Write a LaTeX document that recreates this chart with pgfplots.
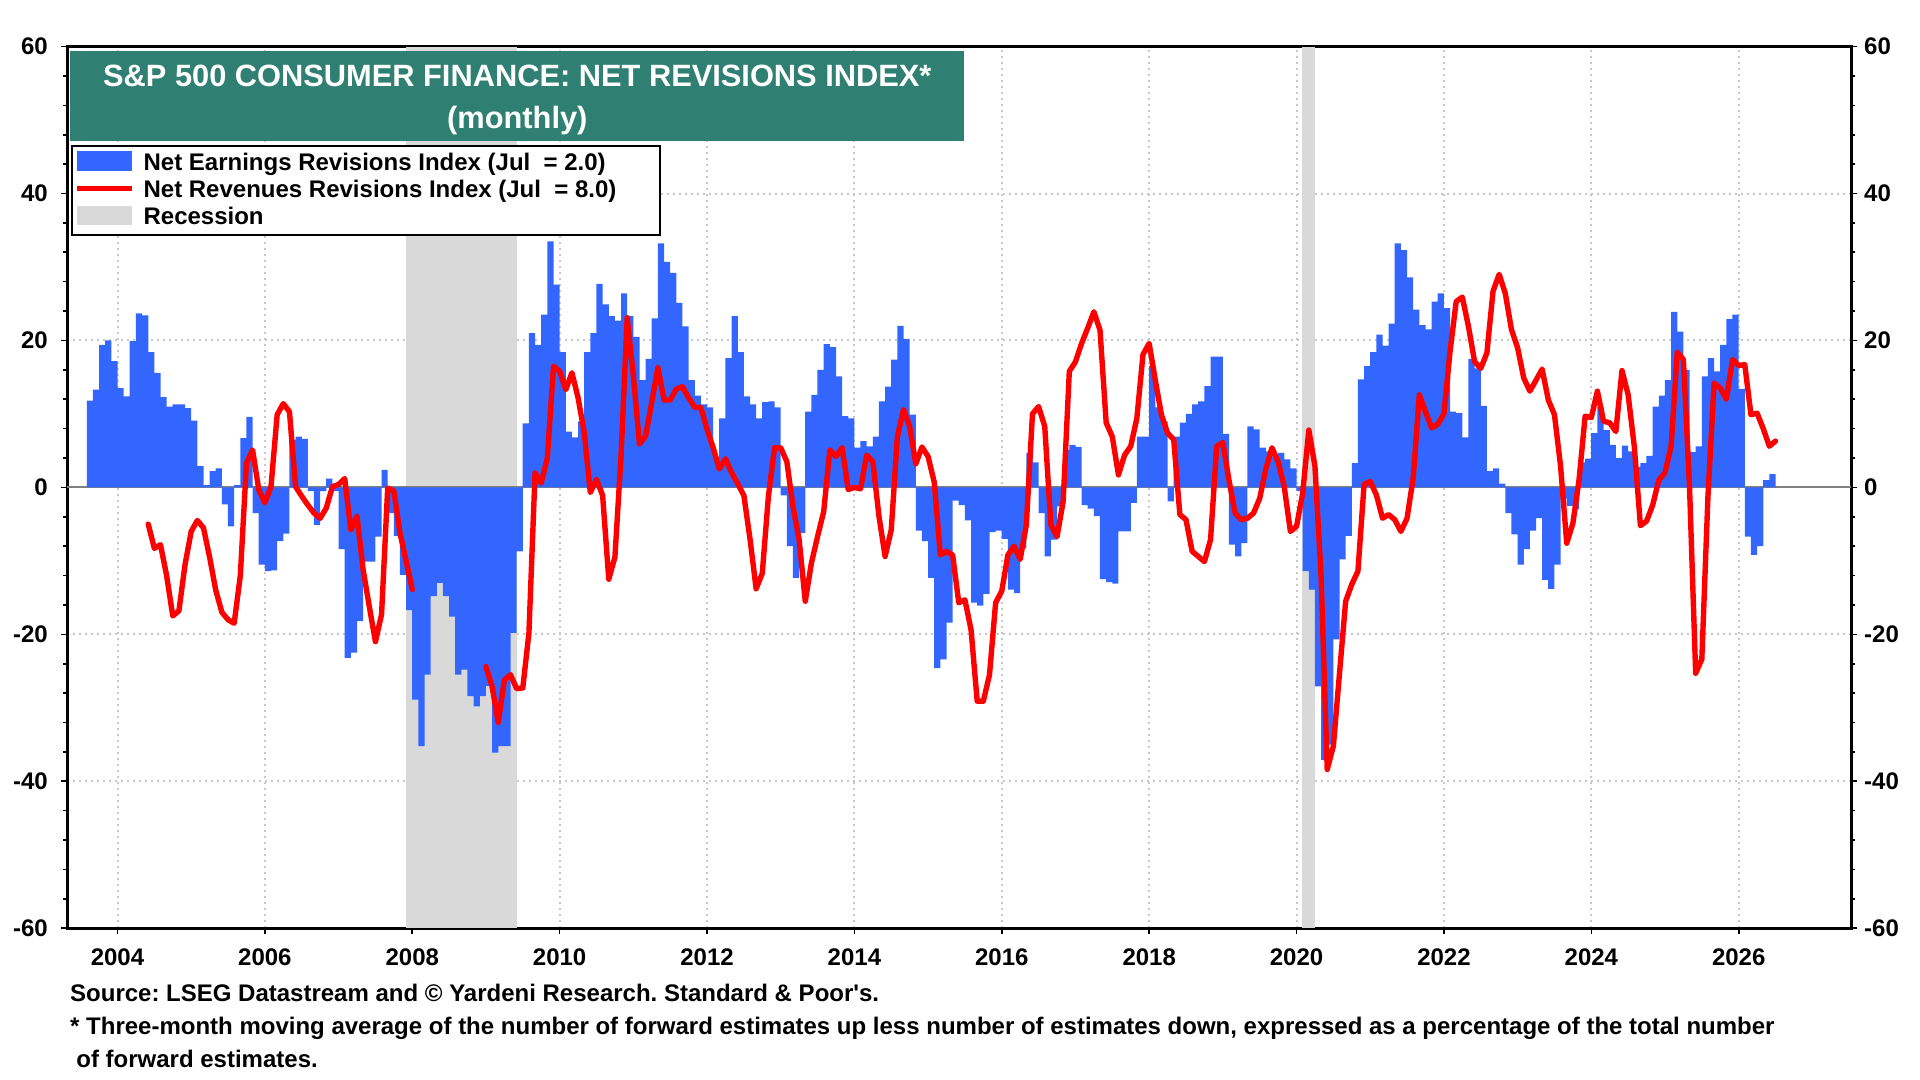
\documentclass[border=0pt]{standalone}
\usepackage{pgfplots}
\pgfplotsset{compat=1.18}
\usepackage{pgfplotstable}
\usepackage{fontspec}
\setmainfont{Liberation Sans}
\frenchspacing
\definecolor{barblue}{RGB}{51,102,255}
\definecolor{linered}{RGB}{255,0,0}
\definecolor{titleteal}{RGB}{47,127,114}
\definecolor{recgray}{RGB}{217,217,217}
\definecolor{gridgray}{RGB}{200,200,200}

\pgfplotstableread{
k v
0 11.8
1 13.3
2 19.4
3 20.0
4 17.2
5 13.5
6 12.4
7 19.9
8 23.7
9 23.4
10 18.4
11 15.6
12 12.3
13 11.0
14 11.3
15 11.3
16 10.8
17 9.1
18 2.9
19 0.3
20 2.2
21 2.6
22 -2.3
23 -5.3
24 0.3
25 6.7
26 9.6
27 -3.5
28 -10.5
29 -11.4
30 -11.3
31 -7.3
32 -6.3
33 6.5
34 6.9
35 6.6
36 -0.5
37 -5.1
38 -0.5
39 1.2
40 -0.5
41 -8.4
42 -23.2
43 -22.5
44 -18.2
45 -10.1
46 -10.1
47 -6.7
48 2.4
49 -3.5
50 -6.6
51 -11.9
52 -16.7
53 -28.9
54 -35.2
55 -25.5
56 -14.8
57 -13.0
58 -14.8
59 -17.6
60 -25.5
61 -24.8
62 -28.4
63 -29.8
64 -28.4
65 -27.0
66 -36.1
67 -35.2
68 -35.2
69 -19.8
70 -8.7
71 8.7
72 21.0
73 19.4
74 23.5
75 33.5
76 27.6
77 18.4
78 7.6
79 6.8
80 9.0
81 18.4
82 21.0
83 27.7
84 24.9
85 23.3
86 22.7
87 26.4
88 23.3
89 20.5
90 14.6
91 17.5
92 23.0
93 33.2
94 30.7
95 29.2
96 25.1
97 21.9
98 14.6
99 12.5
100 11.3
101 10.9
102 4.2
103 9.4
104 17.6
105 23.3
106 18.4
107 12.4
108 11.3
109 9.4
110 11.6
111 11.7
112 10.9
113 -1.1
114 -8.0
115 -12.3
116 -6.2
117 10.3
118 12.6
119 16.0
120 19.5
121 19.1
122 15.1
123 9.7
124 9.4
125 5.4
126 6.3
127 5.6
128 6.9
129 11.7
130 13.7
131 17.4
132 22.0
133 20.2
134 9.9
135 -5.9
136 -7.3
137 -12.3
138 -24.6
139 -23.4
140 -18.4
141 -1.8
142 -2.4
143 -4.5
144 -15.7
145 -16.1
146 -14.5
147 -6.1
148 -5.9
149 -7.0
150 -13.9
151 -14.4
152 -8.3
153 4.7
154 3.4
155 -3.5
156 -9.4
157 -7.1
158 -2.6
159 5.1
160 5.8
161 5.5
162 -2.4
163 -2.9
164 -3.9
165 -12.5
166 -12.9
167 -13.1
168 -6.0
169 -6.0
170 -2.1
171 6.9
172 6.9
173 16.5
174 10.9
175 9.0
176 -1.9
177 6.9
178 8.8
179 10.0
180 11.3
181 11.7
182 13.8
183 17.8
184 17.8
185 7.3
186 -7.8
187 -9.4
188 -7.6
189 8.3
190 7.9
191 5.4
192 4.9
193 4.2
194 4.7
195 3.8
196 2.6
197 -0.5
198 -11.4
199 -13.9
200 -27.1
201 -37.1
202 -35.0
203 -20.7
204 -9.8
205 -6.6
206 3.3
207 14.7
208 16.5
209 18.4
210 20.8
211 19.3
212 22.3
213 33.2
214 32.3
215 28.6
216 24.2
217 22.1
218 21.5
219 25.3
220 26.4
221 24.4
222 10.3
223 10.1
224 6.8
225 17.5
226 16.2
227 11.1
228 2.2
229 2.6
230 0.5
231 -3.5
232 -6.4
233 -10.5
234 -8.4
235 -5.9
236 -4.2
237 -12.6
238 -13.8
239 -10.5
240 -1.5
241 -2.5
242 -3.0
243 3.4
244 3.9
245 7.4
246 11.0
247 7.8
248 5.8
249 4.0
250 5.7
251 4.9
252 2.8
253 3.3
254 4.3
255 11.0
256 12.5
257 14.6
258 23.9
259 21.2
260 16.0
261 4.8
262 5.6
263 15.1
264 17.6
265 15.8
266 19.4
267 22.9
268 23.5
269 13.4
270 -6.7
271 -9.2
272 -8.0
273 1.0
274 1.8
}\earn

\pgfplotstableread{
k v
9.5 -5.0
10.5 -8.3
11.5 -7.8
12.5 -12.0
13.5 -17.5
14.5 -16.8
15.5 -10.5
16.5 -6.0
17.5 -4.5
18.5 -5.5
19.5 -9.5
20.5 -14.0
21.5 -17.0
22.5 -18.0
23.5 -18.5
24.5 -12.0
25.5 3.3
26.5 5.1
27.5 -0.3
28.5 -2.1
29.5 0.1
30.5 9.9
31.5 11.4
32.5 10.3
33.5 0.1
34.5 -1.2
35.5 -2.4
36.5 -3.5
37.5 -4.2
38.5 -2.8
39.5 0.1
40.5 0.4
41.5 1.2
42.5 -5.8
43.5 -3.9
44.5 -11.2
45.5 -16.2
46.5 -21.0
47.5 -17.3
48.5 -0.1
49.5 -0.5
50.5 -6.2
51.5 -10.0
52.5 -13.9
}\revA

\pgfplotstableread{
k v
64.5 -24.4
65.5 -27.1
66.5 -32.0
67.5 -26.2
68.5 -25.5
69.5 -27.4
70.5 -27.3
71.5 -19.8
72.5 2.0
73.5 0.6
74.5 4.0
75.5 16.5
76.5 15.8
77.5 13.3
78.5 15.6
79.5 12.2
80.5 7.5
81.5 -0.7
82.5 1.1
83.5 -1.1
84.5 -12.5
85.5 -9.5
86.5 4.3
87.5 23.1
88.5 15.2
89.5 5.9
90.5 7.0
91.5 11.6
92.5 16.3
93.5 11.9
94.5 11.9
95.5 13.4
96.5 13.7
97.5 12.2
98.5 10.9
99.5 10.9
100.5 7.9
101.5 5.4
102.5 2.5
103.5 3.9
104.5 2.0
105.5 0.5
106.5 -1.1
107.5 -7.0
108.5 -13.8
109.5 -11.7
110.5 -1.2
111.5 5.4
112.5 5.4
113.5 3.5
114.5 -2.6
115.5 -7.1
116.5 -15.5
117.5 -10.3
118.5 -6.7
119.5 -3.3
120.5 5.1
121.5 4.2
122.5 5.4
123.5 -0.3
124.5 0.0
125.5 -0.2
126.5 4.4
127.5 3.5
128.5 -3.9
129.5 -9.4
130.5 -5.8
131.5 6.9
132.5 10.6
133.5 8.3
134.5 3.2
135.5 5.5
136.5 4.2
137.5 0.7
138.5 -9.2
139.5 -8.7
140.5 -9.2
141.5 -15.7
142.5 -15.3
143.5 -19.4
144.5 -29.1
145.5 -29.1
146.5 -25.5
147.5 -15.7
148.5 -14.1
149.5 -9.2
150.5 -8.0
151.5 -9.8
152.5 -5.1
153.5 10.0
154.5 11.0
155.5 8.3
156.5 -5.1
157.5 -6.7
158.5 -1.9
159.5 15.8
160.5 17.1
161.5 19.6
162.5 21.7
163.5 23.9
164.5 21.4
165.5 8.8
166.5 6.9
167.5 1.7
168.5 4.4
169.5 5.6
170.5 9.4
171.5 18.1
172.5 19.6
173.5 14.6
174.5 9.9
175.5 7.4
176.5 6.5
177.5 -3.7
178.5 -4.4
179.5 -8.7
180.5 -9.4
181.5 -10.1
182.5 -7.1
183.5 5.6
184.5 6.1
185.5 1.0
186.5 -3.5
187.5 -4.4
188.5 -4.2
189.5 -3.5
190.5 -1.5
191.5 2.5
192.5 5.4
193.5 3.5
194.5 0.1
195.5 -6.0
196.5 -5.3
197.5 -0.8
198.5 7.8
199.5 2.9
200.5 -12.0
201.5 -38.4
202.5 -35.2
203.5 -25.3
204.5 -15.5
205.5 -13.2
206.5 -11.4
207.5 0.4
208.5 0.8
209.5 -1.0
210.5 -4.2
211.5 -3.7
212.5 -4.4
213.5 -6.0
214.5 -4.2
215.5 1.3
216.5 12.6
217.5 10.3
218.5 8.1
219.5 8.6
220.5 10.0
221.5 18.5
222.5 25.3
223.5 25.9
224.5 21.9
225.5 17.1
226.5 16.2
227.5 18.3
228.5 26.7
229.5 29.0
230.5 26.4
231.5 21.5
232.5 19.0
233.5 14.9
234.5 13.1
235.5 14.6
236.5 16.1
237.5 11.9
238.5 9.9
239.5 2.9
240.5 -7.6
241.5 -4.9
242.5 1.0
243.5 9.7
244.5 9.5
245.5 13.1
246.5 9.0
247.5 8.8
248.5 7.6
249.5 15.9
250.5 12.6
251.5 5.6
252.5 -5.2
253.5 -4.6
254.5 -2.4
255.5 1.0
256.5 2.0
257.5 5.6
258.5 18.4
259.5 17.4
260.5 0.1
261.5 -25.3
262.5 -23.4
263.5 -1.2
264.5 14.2
265.5 13.5
266.5 12.0
267.5 17.4
268.5 16.6
269.5 16.7
270.5 9.9
271.5 10.1
272.5 8.0
273.5 5.6
274.5 6.3
}\revB

\begin{document}
\begin{tikzpicture}[font=\bfseries\fontsize{12bp}{14bp}\selectfont]
\useasboundingbox (-33.7bp,-75.9bp) rectangle (926.3bp,464.1bp);
\begin{axis}[
  at={(0bp,0bp)}, anchor=south west,
  width=892bp, height=440.8bp, scale only axis,
  xmin=2003.32, xmax=2027.53,
  ymin=-60, ymax=60,
  clip=false,
  axis line style={line width=1.5bp},
  xtick={2004,2006,...,2026},
  minor x tick num=7,
  ytick={-60,-40,...,60},
  minor y tick num=4,
  xtick pos=bottom, ytick pos=both,
  tick align=outside,
  major tick length=3bp, minor tick length=2bp,
  tick style={black, line width=0.8bp},
  xmajorgrids, ymajorgrids,
  major grid style={gridgray, line width=1bp, dash pattern=on 1bp off 2bp},
  /pgf/number format/assume math mode=true,
  /pgf/number format/1000 sep={},
  xticklabel style={inner sep=0pt, text height=8.6bp, text depth=0pt, anchor=north, yshift=-6.6bp},
  yticklabel style={inner sep=0pt, anchor=east, xshift=-6.6bp},
]
\addplot[fill=recgray, draw=none] coordinates {(2007.92,-60) (2007.92,60) (2009.42,60) (2009.42,-60)};
\addplot[fill=recgray, draw=none] coordinates {(2020.08,-60) (2020.08,60) (2020.25,60) (2020.25,-60)};
\addplot[gray, line width=1bp] coordinates {(2003.32,0) (2027.53,0)};
\addplot[ybar, bar width=0.0845, bar shift=0pt, fill=barblue, draw=none] table[x expr=2003.625+\thisrow{k}/12, y=v]{\earn};
\addplot[linered, line width=2.7bp, line join=round, line cap=round] table[x expr=2003.625+\thisrow{k}/12, y=v]{\revA};
\addplot[linered, line width=2.7bp, line join=round, line cap=round] table[x expr=2003.625+\thisrow{k}/12, y=v]{\revB};
% right tick labels
\pgfplotsinvokeforeach{-60,-40,-20,0,20,40,60}{
  \node[anchor=west, inner sep=0pt, xshift=6.2bp] at (axis cs:2027.53,#1) {#1};
}
% title box
\fill[titleteal] (rel axis cs:0.0013,0.8932) rectangle (rel axis cs:0.5024,0.9946);
\node[white, anchor=base, font=\bfseries\fontsize{15.4bp}{18bp}\selectfont] at (rel axis cs:0.2522,0.9542) {S\&P 500 CONSUMER FINANCE: NET REVISIONS INDEX*};
\node[white, anchor=base, font=\bfseries\fontsize{15.4bp}{18bp}\selectfont] at (rel axis cs:0.2522,0.9070) {(monthly)};
% legend
\draw[line width=1.2bp, fill=white] (rel axis cs:0.0027,0.7861) rectangle (rel axis cs:0.3322,0.8875);
\fill[barblue] (rel axis cs:0.0055,0.8584) rectangle (rel axis cs:0.0363,0.8820);
\draw[linered, line width=2.7bp] (rel axis cs:0.0055,0.8389) -- (rel axis cs:0.0363,0.8389);
\fill[recgray] (rel axis cs:0.0055,0.7972) rectangle (rel axis cs:0.0363,0.8194);
\node[anchor=base west, inner sep=0pt] at (rel axis cs:0.0425,0.8600) {Net Earnings Revisions Index (Jul~ = 2.0)};
\node[anchor=base west, inner sep=0pt] at (rel axis cs:0.0425,0.8292) {Net Revenues Revisions Index (Jul~ = 8.0)};
\node[anchor=base west, inner sep=0pt] at (rel axis cs:0.0425,0.7986) {Recession};
\end{axis}
\node[anchor=base west, inner sep=0pt] at (1.2bp,-36.7bp) {Source: LSEG Datastream and © Yardeni Research. Standard \& Poor\textquotesingle s.};
\node[anchor=base west, inner sep=0pt] at (1.2bp,-53.2bp) {* Three-month moving average of the number of forward estimates up less number of estimates down, expressed as a percentage of the total number};
\node[anchor=base west, inner sep=0pt] at (4.3bp,-69.8bp) {of forward estimates.};
\end{tikzpicture}
\end{document}
